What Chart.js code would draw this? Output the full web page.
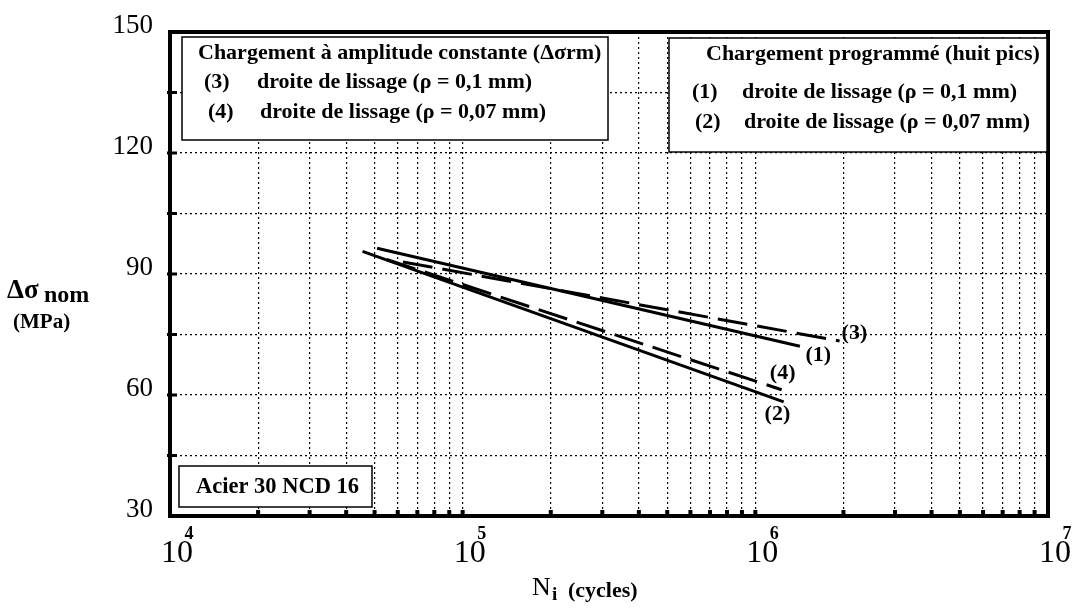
<!DOCTYPE html>
<html>
<head>
<meta charset="utf-8">
<script src="https://cdn.jsdelivr.net/npm/chart.js@4.4.1/dist/chart.umd.min.js"></script>
<style>
  html, body { margin: 0; padding: 0; background: #fff; }
  #wrap { width: 1084px; height: 609px; position: relative; }
</style>
</head>
<body>
<div id="wrap"><canvas id="sn-chart"></canvas></div>
<script>
// fitted S-N lines (N in cycles, stress in MPa)
const line1N = [51000, 1420000];   // (1) programmed, rho = 0.1 mm
const line1S = [96.4, 72.1];
const line2N = [45500, 1250000];   // (2) programmed, rho = 0.07 mm
const line2S = [95.6, 58.3];
const line3N = [62500, 1940000];   // (3) constant amplitude, rho = 0.1 mm
const line3S = [93.0, 73.4];
const line4N = [55000, 1230000];   // (4) constant amplitude, rho = 0.07 mm
const line4S = [93.6, 61.3];

// axis ticks
const decades = [1e4, 1e5, 1e6, 1e7];
const xGrid = decades.slice(0, 3).flatMap(d => [1, 2, 3, 4, 5, 6, 7, 8, 9].map(k => k * d)).concat([1e7]);
const yLabels = [30, 60, 90, 120, 150];

// line end labels: [text, N, stress]
const endLabels = [
  ['(3)', 2180000, 75.2],
  ['(1)', 1640000, 69.9],
  ['(4)', 1240000, 65.4],
  ['(2)', 1190000, 55.3],
];

const toPts = (xs, ys) => xs.map((x, i) => ({ x, y: ys[i] }));
const SERIF = '"Liberation Serif", "Times New Roman", serif';

const line = (label, xs, ys, dash) => ({
  label,
  data: toPts(xs, ys),
  showLine: true,
  borderColor: '#000',
  borderWidth: 3,
  borderDash: dash,
  pointRadius: 0,
  tension: 0,
});

function box(ctx, x, y, w, h) {
  ctx.fillStyle = '#fff';
  ctx.fillRect(x, y, w, h);
  ctx.strokeStyle = '#000';
  ctx.lineWidth = 1.5;
  ctx.strokeRect(x, y, w, h);
}

function txt(ctx, s, x, y, size, bold, align, base) {
  ctx.font = `${bold ? 'bold ' : ''}${size}px ${SERIF}`;
  ctx.textAlign = align || 'left';
  ctx.textBaseline = base || 'alphabetic';
  ctx.fillStyle = '#000';
  ctx.fillText(s, x, y);
}

const decor = {
  id: 'decor',
  afterDraw(chart) {
    const { ctx, chartArea: a, scales: { x, y } } = chart;
    ctx.save();

    // small tick marks along the bottom axis
    ctx.fillStyle = '#000';
    xGrid.forEach(v => {
      const px = x.getPixelForValue(v);
      ctx.fillRect(px - 2, a.bottom - 6, 4, 6);
    });
    // left axis ticks
    [45, 60, 75, 90, 105, 120, 135].forEach(v => {
      const py = y.getPixelForValue(v);
      ctx.fillRect(a.left - 3, py - 1.5, 10, 3);
    });

    // heavy frame
    ctx.strokeStyle = '#000';
    ctx.lineWidth = 4;
    ctx.strokeRect(a.left, a.top, a.right - a.left, a.bottom - a.top);

    // y tick labels
    yLabels.forEach(v => txt(ctx, String(v), a.left - 17, y.getPixelForValue(v) + 1, 27, false, 'right'));

    // x tick labels 10^k
    decades.forEach((v, i) => {
      const px = x.getPixelForValue(v);
      txt(ctx, '10', px + 7, 562, 32, false, 'center');
      txt(ctx, String(4 + i), px + 19, 539, 18, true, 'center');
    });

    // axis titles
    txt(ctx, 'N', 532, 595, 26, false);
    txt(ctx, 'i', 552, 600, 19, true);
    txt(ctx, '(cycles)', 568, 597, 22, true);

    txt(ctx, 'Δσ', 7, 298, 27, true);
    txt(ctx, 'nom', 44, 302, 24, true);
    txt(ctx, '(MPa)', 13, 328, 21, true);

    // legend boxes
    box(ctx, 182, 37, 426, 103);
    txt(ctx, 'Chargement à amplitude constante (Δσrm)', 198, 59, 22, true);
    txt(ctx, '(3)', 204, 88, 22, true);
    txt(ctx, 'droite de lissage (ρ = 0,1 mm)', 257, 88, 22, true);
    txt(ctx, '(4)', 208, 118, 22, true);
    txt(ctx, 'droite de lissage (ρ = 0,07 mm)', 260, 118, 22, true);

    box(ctx, 669, 38, 378, 114);
    txt(ctx, 'Chargement programmé (huit pics)', 706, 60, 22, true);
    txt(ctx, '(1)', 692, 98, 22, true);
    txt(ctx, 'droite de lissage (ρ = 0,1 mm)', 742, 98, 22, true);
    txt(ctx, '(2)', 695, 128, 22, true);
    txt(ctx, 'droite de lissage (ρ = 0,07 mm)', 744, 128, 22, true);

    box(ctx, 179, 466, 193, 41);
    txt(ctx, 'Acier 30 NCD 16', 196, 493, 22.5, true);

    // labels at the line ends
    endLabels.forEach(([s, n, v]) => {
      txt(ctx, s, x.getPixelForValue(n), y.getPixelForValue(v), 22, true, 'center', 'middle');
    });

    ctx.restore();
  },
};

const ctx = document.getElementById('sn-chart').getContext('2d');

const chart = new Chart(ctx, {
  type: 'scatter',
  data: {
    datasets: [
      line('(1)', line1N, line1S, []),
      line('(2)', line2N, line2S, []),
      line('(3)', line3N, line3S, [30, 10]),
      line('(4)', line4N, line4S, [30, 10]),
    ],
  },
  options: {
    responsive: true,
    maintainAspectRatio: false,
    animation: false,
    layout: { padding: { left: 170, top: 32, right: 36, bottom: 93 } },
    plugins: { legend: { display: false }, tooltip: { enabled: false } },
    scales: {
      x: {
        type: 'logarithmic',
        min: 1e4, max: 1e7,
        afterBuildTicks: s => { s.ticks = xGrid.map(v => ({ value: v })); },
        ticks: { display: false },
        grid: { color: '#000', lineWidth: 1.2, drawTicks: false },
        border: { display: false, dash: [2, 3] },
      },
      y: {
        min: 30, max: 150,
        ticks: { display: false, stepSize: 15 },
        grid: { color: '#000', lineWidth: 1.2, drawTicks: false },
        border: { display: false, dash: [2, 3] },
      },
    },
  },
  plugins: [decor],
});
</script>
</body>
</html>
